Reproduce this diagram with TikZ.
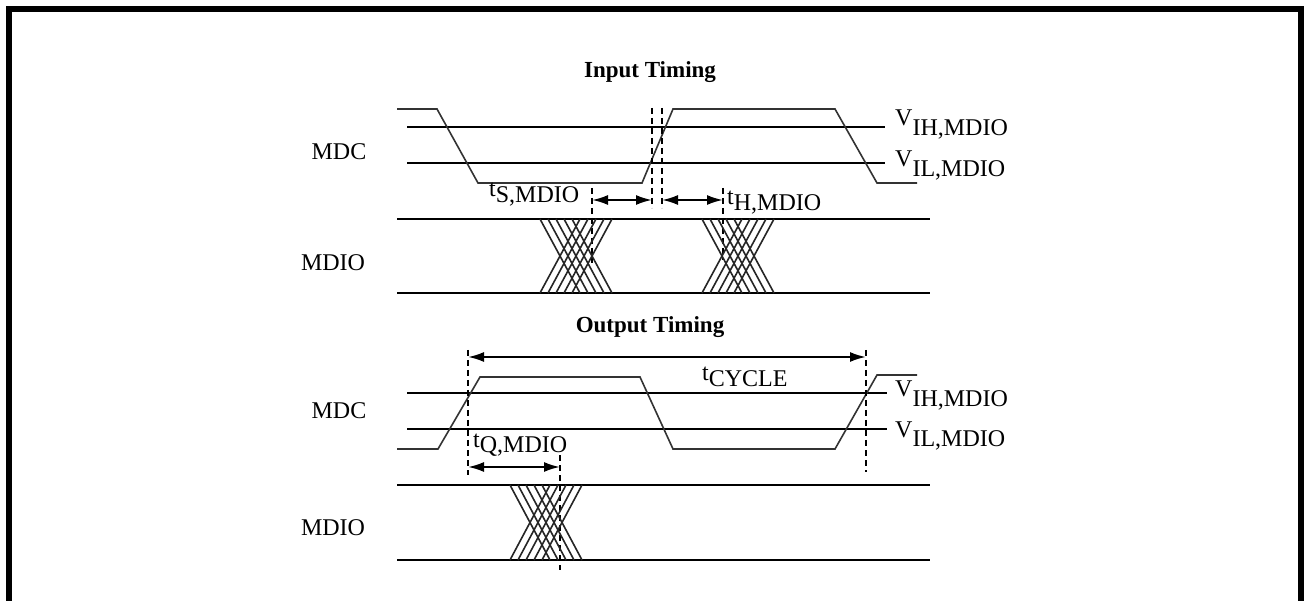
\documentclass[tikz,border=0pt]{standalone}
\usepackage{fontspec}
\setmainfont{Liberation Serif}
\usetikzlibrary{arrows.meta}
\newcommand{\sublab}[2]{#1\raisebox{-0.38em}{#2}}
\newcommand{\tlab}[2]{#1\raisebox{-0.22em}{#2}}
\newcommand{\xcross}[3]{%
  \foreach \i in {0,...,4}{%
    \draw[bus] (#1+8*\i,#2) -- (#1+40+8*\i,#3);
    \draw[bus] (#1+40+8*\i,#2) -- (#1+8*\i,#3);}}
\begin{document}
\begin{tikzpicture}[x=1pt,y=-1pt,
  sig/.style={line width=1.6pt, draw=black!80},
  thr/.style={line width=1.8pt},
  bus/.style={line width=1.6pt, draw=black!85},
  dsh/.style={line width=1.3pt, dash pattern=on 6pt off 4pt},
  dim/.style={line width=2pt, {Latex[length=16pt,width=10pt]}-{Latex[length=16pt,width=10pt]}},
  lab/.style={inner sep=0pt, font=\fontsize{24}{28}\selectfont},
  ttl/.style={inner sep=0pt, font=\fontsize{23}{27}\selectfont\bfseries}]
\useasboundingbox (0,0) rectangle (1304,601);
\fill[white] (0,0) rectangle (1304,601);
% frame
\draw[line width=6pt, line join=miter] (9,601) -- (9,9) -- (1301,9) -- (1301,601);

% ---------- Input timing ----------
\node[ttl] (tin) at (650,72) {Input Timing};
\node[lab] (mdc1) at (339,152) {MDC};
\node[lab] (mdio1) at (333,263) {MDIO};
% thresholds
\draw[thr] (407,127) -- (885,127);
\draw[thr] (407,163) -- (885,163);
\node[lab, anchor=base west] (vih1) at (895,126) {\sublab{V}{IH,MDIO}};
\node[lab, anchor=base west] (vil1) at (895,167) {\sublab{V}{IL,MDIO}};
% MDC waveform
\draw[sig] (397,109) -- (437,109) -- (478,183) -- (642,183) -- (673,109) -- (835,109) -- (877,183) -- (917,183);
% dashed markers
\draw[dsh] (652,108) -- (652,208);
\draw[dsh] (662,108) -- (662,208);
\draw[dsh] (592,188) -- (592,263);
\draw[dsh] (723,188) -- (723,260);
% arrows
\coordinate (s1) at (592,200); \coordinate (s2) at (652,200);
\coordinate (h1) at (662,200); \coordinate (h2) at (723,200);
\draw[dim] (s1) -- (s2);
\draw[dim] (h1) -- (h2);
\node[lab, anchor=base west] (ts) at (489,197) {\tlab{t}{S,MDIO}};
\node[lab, anchor=base west] (th) at (727,205) {\tlab{t}{H,MDIO}};
% MDIO bus
\draw[thr] (397,219) -- (930,219);
\draw[thr] (397,293) -- (930,293);
\xcross{540}{219}{293}
\xcross{702}{219}{293}

% ---------- Output timing ----------
\node[ttl] (tout) at (650,327) {Output Timing};
\node[lab] (mdc2) at (339,411) {MDC};
\node[lab] (mdio2) at (333,528) {MDIO};
\draw[thr] (407,393) -- (887,393);
\draw[thr] (407,429) -- (887,429);
\node[lab, anchor=base west] (vih2) at (895,397) {\sublab{V}{IH,MDIO}};
\node[lab, anchor=base west] (vil2) at (895,437) {\sublab{V}{IL,MDIO}};
\draw[sig] (397,449) -- (438,449) -- (480,377) -- (640,377) -- (673,449) -- (835,449) -- (877,375) -- (917,375);
\draw[dsh] (468,350) -- (468,475);
\draw[dsh] (866,350) -- (866,472);
\draw[dsh] (560,455) -- (560,570);
\coordinate (c1) at (468,357); \coordinate (c2) at (866,357);
\coordinate (q1) at (468,467); \coordinate (q2) at (560,467);
\draw[dim] (c1) -- (c2);
\draw[dim] (q1) -- (q2);
\node[lab, anchor=base west] (tc) at (702,381) {\tlab{t}{CYCLE}};
\node[lab, anchor=base west] (tq) at (473,447) {\tlab{t}{Q,MDIO}};
\draw[thr] (397,485) -- (930,485);
\draw[thr] (397,560) -- (930,560);
\xcross{510}{485}{560}
\end{tikzpicture}
\end{document}
